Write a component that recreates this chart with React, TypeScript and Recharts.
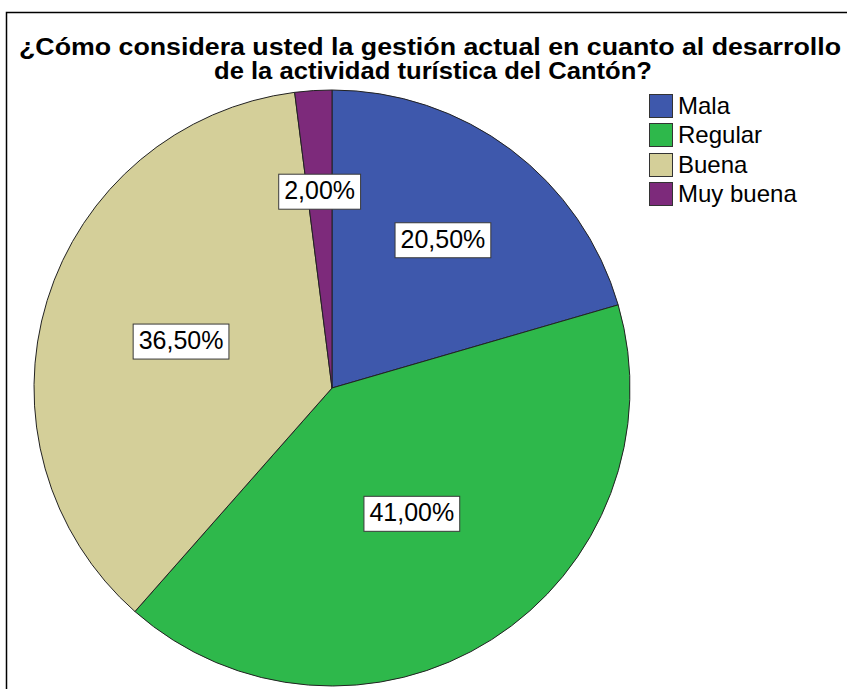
import React from "react";
import { PieChart, Pie, Cell, Legend } from "recharts";

const categories = ["Mala", "Regular", "Buena", "Muy buena"];
const percentages = [20.5, 41.0, 36.5, 2.0];
const percentLabels = ["20,50%", "41,00%", "36,50%", "2,00%"];
const colors = ["#3E58AC", "#2EB84B", "#D4CF99", "#7D2A7B"];
const titleLines = [
  "¿Cómo considera usted la gestión actual en cuanto al desarrollo",
  "de la actividad turística del Cantón?",
];

const data = categories.map((name, i) => ({ name, value: percentages[i] }));

// label distance from centre as fraction of radius (SPSS-like placement)
const labelRadius = [0.62, 0.5, 0.53, 0.66];

const FONT = "'Liberation Sans', Arial, sans-serif";

const charW = (s: string, fs: number) => {
  let w = 0;
  for (const c of s) {
    if (c === ",") w += 0.278;
    else if (c === "%") w += 0.889;
    else w += 0.556;
  }
  return w * fs;
};

const renderLabel = (props: any) => {
  const { cx, cy, midAngle, outerRadius, index } = props;
  const RAD = Math.PI / 180;
  const r = outerRadius * labelRadius[index];
  const x = cx + r * Math.cos(-midAngle * RAD);
  const y = cy + r * Math.sin(-midAngle * RAD);
  const text = percentLabels[index];
  const fs = 25;
  const w = charW(text, fs) + 11;
  const h = 35;
  return (
    <g key={"lbl" + index}>
      <rect x={x - w / 2} y={y - h / 2} width={w} height={h} fill="#ffffff" stroke="#3a3a3a" strokeWidth={1} />
      <text x={x} y={y + 1} textAnchor="middle" dominantBaseline="middle" fontFamily={FONT} fontSize={fs} fill="#000">
        {text}
      </text>
    </g>
  );
};

const LegendContent = () => (
  <div style={{ fontFamily: FONT, fontSize: 24, color: "#000" }}>
    {categories.map((c, i) => (
      <div key={c} style={{ display: "flex", alignItems: "center", height: 29.5 }}>
        <div
          style={{
            width: 22,
            height: 22,
            background: colors[i],
            border: "1px solid #333",
            marginRight: 5,
          }}
        />
        <span style={{ lineHeight: "24px" }}>{c}</span>
      </div>
    ))}
  </div>
);

export default function App() {
  return (
    <div style={{ position: "absolute", left: 0, top: 0, width: 847, height: 689, background: "#fff", overflow: "hidden" }}>
      <PieChart width={847} height={689} margin={{ top: 0, right: 0, bottom: 0, left: 0 }}>
        <Pie
          data={data}
          dataKey="value"
          nameKey="name"
          cx={332}
          cy={388}
          outerRadius={298}
          startAngle={90}
          endAngle={-270}
          stroke="#222"
          strokeWidth={1}
          label={renderLabel}
          labelLine={false}
          isAnimationActive={false}
        >
          {data.map((d, i) => (
            <Cell key={d.name} fill={colors[i]} />
          ))}
        </Pie>
        <Legend
          content={<LegendContent />}
          wrapperStyle={{ position: "absolute", left: 649, top: 91, width: 190 }}
        />
      </PieChart>
      <svg width={847} height={689} style={{ position: "absolute", left: 0, top: 0, pointerEvents: "none" }}>
        <rect x={6.5} y={12.5} width={900} height={700} fill="none" stroke="#000" strokeWidth={1.5} />
        <text x={430} y={55} textAnchor="middle" fontFamily={FONT} fontWeight="bold" fontSize={23} textLength={822} lengthAdjust="spacingAndGlyphs">
          {titleLines[0]}
        </text>
        <text x={433} y={79} textAnchor="middle" fontFamily={FONT} fontWeight="bold" fontSize={23} textLength={438} lengthAdjust="spacingAndGlyphs">
          {titleLines[1]}
        </text>
      </svg>
    </div>
  );
}
